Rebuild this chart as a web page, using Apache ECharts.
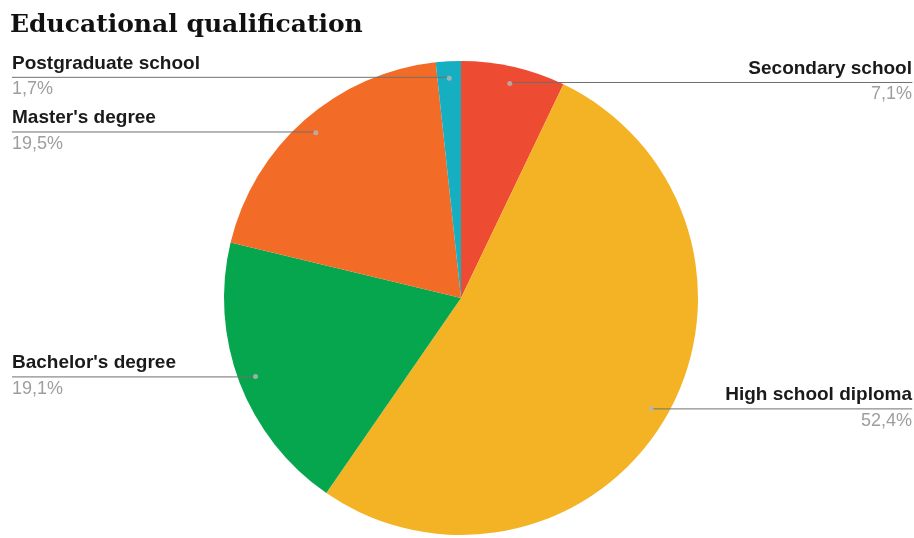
<!DOCTYPE html>
<html>
<head>
<meta charset="utf-8">
<script src="https://cdn.jsdelivr.net/npm/echarts@6/dist/echarts.min.js"></script>
<style>
  html, body { margin: 0; padding: 0; background: #ffffff; }
  #chart { width: 914px; height: 538px; }
</style>
</head>
<body>
<div id="chart"></div>
<script>
// Data
const categories = ['Secondary school', 'High school diploma', "Bachelor's degree", "Master's degree", 'Postgraduate school'];
const shares = [7.1, 52.4, 19.1, 19.5, 1.7];
const sliceColors = ['#EE4B33', '#F4B324', '#06A64E', '#F26B27', '#16AFC2'];

// Geometry and type
const CENTER = [461, 298];
const RADIUS = 237;
const ANCHOR_R = 220;   // leader lines start a little inside each slice
const NAME_FONT = 'bold 19px "Liberation Sans"';

const total = shares.reduce((a, b) => a + b, 0);
let acc = 0;
const mids = shares.map(v => { const m = acc + v / 2; acc += v; return m; });
const onRight = mids.map(m => m < total / 2);
const fmtPct = v => v.toFixed(1).replace('.', ',') + '%';

// width of each name, so its leader line can run underneath it to the edge
const ctx = document.createElement('canvas').getContext('2d');
ctx.font = NAME_FONT;
const nameWidth = categories.map(n => Math.ceil(ctx.measureText(n).width));

const chart = echarts.init(document.getElementById('chart'), null, { renderer: 'canvas' });

chart.setOption({
  animation: false,
  backgroundColor: '#ffffff',
  title: {
    text: 'Educational qualification',
    left: 5,
    top: 8,
    textStyle: { fontFamily: 'DejaVu Serif', fontWeight: 'bold', fontSize: 25, color: '#111111' }
  },
  polar: { center: CENTER, radius: RADIUS },
  angleAxis: { type: 'value', min: 0, max: total, startAngle: 90, clockwise: true, show: false },
  radiusAxis: { type: 'value', min: 0, max: RADIUS, show: false },
  series: [
    {
      // the slices
      type: 'pie',
      center: CENTER,
      radius: RADIUS,
      startAngle: 90,
      clockwise: true,
      silent: true,
      label: { show: false },
      labelLine: { show: false },
      itemStyle: { borderWidth: 0 },
      data: categories.map((name, i) => ({ name, value: shares[i], itemStyle: { color: sliceColors[i] } }))
    },
    {
      // labels: name above the leader line, share below it
      type: 'pie',
      center: CENTER,
      radius: ANCHOR_R,
      startAngle: 90,
      clockwise: true,
      silent: true,
      z: 4,
      itemStyle: { color: 'rgba(0,0,0,0)', borderWidth: 0 },
      label: {
        show: true, position: 'outside', alignTo: 'edge',
        formatter: p => '{n|' + p.name + '}\n{p|' + fmtPct(p.value) + '}',
        rich: {
          n: { fontFamily: 'Liberation Sans', fontWeight: 'bold', fontSize: 19, color: '#1a1a1a', lineHeight: 24 },
          p: { fontFamily: 'Liberation Sans', fontSize: 18, color: '#9e9e9e', lineHeight: 28 }
        }
      },
      labelLine: { show: true, length: 1, length2: 5, lineStyle: { color: '#707070', width: 1 } },
      data: categories.map((name, i) => ({
        name,
        value: shares[i],
        label: { edgeDistance: onRight[i] ? 2 : 12, distanceToLabelLine: -nameWidth[i] }
      }))
    },
    {
      // small anchor dots where each leader line begins
      type: 'scatter',
      coordinateSystem: 'polar',
      silent: true,
      z: 5,
      symbol: 'circle',
      symbolSize: 5,
      itemStyle: { color: '#b8b8b8' },
      data: mids.map(m => [ANCHOR_R, m])
    }
  ]
});
</script>
</body>
</html>
